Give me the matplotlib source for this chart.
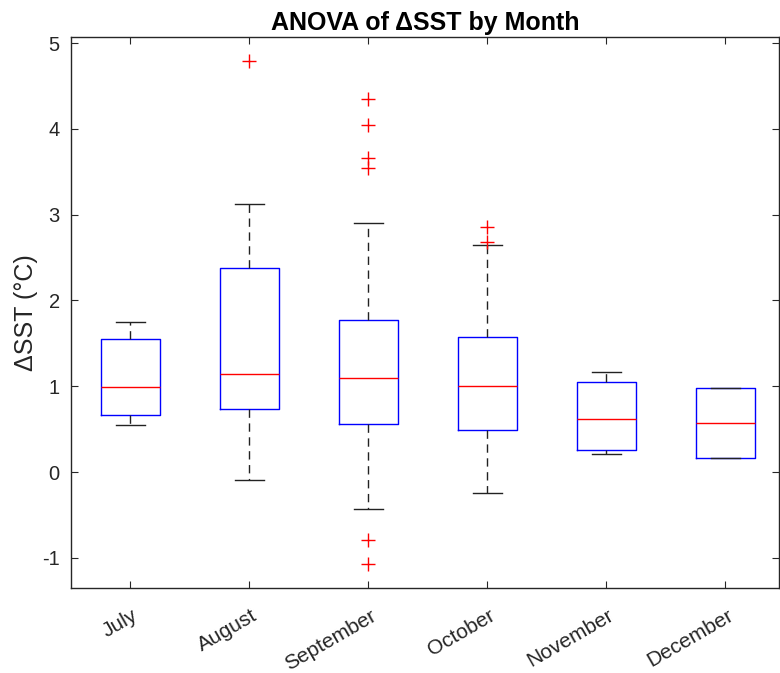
import matplotlib
matplotlib.use("Agg")
import matplotlib.pyplot as plt
import matplotlib.transforms as mtransforms

months = ["July", "August", "September", "October", "November", "December"]
q1 = [0.66, 0.73, 0.56, 0.49, 0.26, 0.16]
med = [0.99, 1.14, 1.10, 1.00, 0.62, 0.57]
q3 = [1.55, 2.38, 1.77, 1.57, 1.05, 0.98]
whislo = [0.55, -0.09, -0.43, -0.245, 0.21, 0.16]
whishi = [1.75, 3.13, 2.90, 2.65, 1.17, 0.98]
fliers = [
    [],
    [4.79],
    [4.35, 4.05, 3.66, 3.54, -0.79, -1.07],
    [2.86, 2.68],
    [],
    [],
]
yticks = [-1, 0, 1, 2, 3, 4, 5]

plt.rcParams['font.family'] = ['Liberation Sans', 'DejaVu Sans']

fig = plt.figure(figsize=(7.8, 6.73), dpi=100)
ax = fig.add_axes([0.091, 0.1263, 0.9077, 0.8187])

stats = []
for i, m in enumerate(months):
    stats.append(dict(label=m, q1=q1[i], med=med[i], q3=q3[i],
                      whislo=whislo[i], whishi=whishi[i], fliers=fliers[i]))

ax.bxp(stats, positions=range(1, len(months) + 1), widths=0.5,
       showfliers=True,
       boxprops=dict(color='#0000ff', linewidth=1.0),
       medianprops=dict(color='#ff0000', linewidth=1.0),
       whiskerprops=dict(color='#222222', linewidth=1.0, linestyle=(0, (6, 4))),
       capprops=dict(color='#222222', linewidth=1.0),
       capwidths=0.25,
       flierprops=dict(marker='+', markeredgecolor='#ff0000', markersize=10,
                       markeredgewidth=1.0, linestyle='none'))

ax.set_xlim(0.5, 6.45)
ax.set_ylim(-1.35, 5.07)
ax.set_yticks(yticks)
ax.set_yticklabels([str(v) for v in yticks])
ax.set_xticks(range(1, len(months) + 1))
ax.set_xticklabels(months, rotation=30, ha='right', va='center',
                   rotation_mode='anchor', fontsize=15)

for s in ax.spines.values():
    s.set_color('#262626')
    s.set_linewidth(1.0)
ax.tick_params(direction='in', length=5, width=0.8, colors='#262626',
               top=True, right=True)
ax.tick_params(axis='y', labelsize=14.5, pad=8)
ax.tick_params(axis='x', pad=19)

offset = mtransforms.ScaledTranslation(6 / 100, 0, fig.dpi_scale_trans)
for lab in ax.get_xticklabels():
    lab.set_transform(lab.get_transform() + offset)

ax.set_ylabel('ΔSST (°C)', fontsize=18, color='#262626', labelpad=3)
ax.set_title('ANOVA of ΔSST by Month', fontsize=18, fontweight='bold',
             color='#000000', pad=5)

fig.savefig('out.png', dpi=100)
